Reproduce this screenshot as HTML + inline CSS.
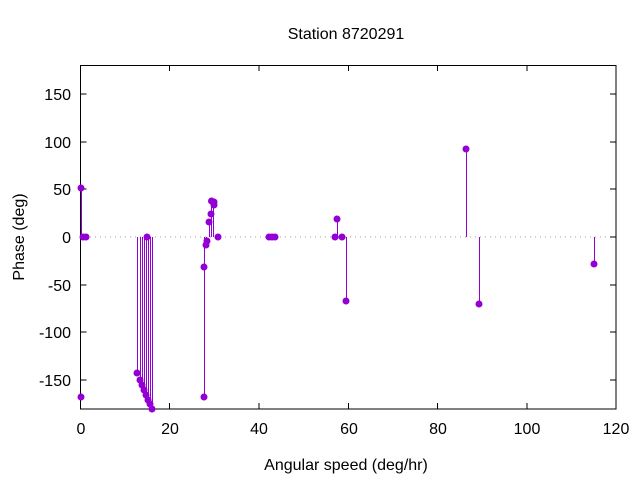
<!DOCTYPE html>
<html><head><meta charset="utf-8"><style>
body{margin:0;background:#fff}
svg{display:block;font-family:"Liberation Sans","DejaVu Sans",sans-serif;font-size:16px}
</style></head><body>
<svg width="640" height="480" viewBox="0 0 640 480" xmlns="http://www.w3.org/2000/svg">
<rect width="640" height="480" fill="#fff"/>
<line x1="80" y1="237" x2="616" y2="237" stroke="#a0a0a0" stroke-dasharray="1,4"/>
<g stroke="#000" stroke-width="1" shape-rendering="crispEdges">
<rect x="80.5" y="65.5" width="535.5" height="343.5" fill="none"/>
<path d="M80.5 94h6M616 94h-6M80.5 142h6M616 142h-6M80.5 189h6M616 189h-6M80.5 237h6M616 237h-6M80.5 285h6M616 285h-6M80.5 332h6M616 332h-6M80.5 380h6M616 380h-6"/>
<path d="M80.5 409v-6M80.5 65v6M169.5 409v-6M169.5 65v6M259 409v-6M259 65v6M348.5 409v-6M348.5 65v6M437.5 409v-6M437.5 65v6M527 409v-6M527 65v6"/>
</g>
<g text-anchor="end" fill="#000">
<text x="71" y="100">150</text><text x="71" y="148">100</text><text x="71" y="195">50</text><text x="71" y="243">0</text><text x="71" y="291">-50</text><text x="71" y="338">-100</text><text x="71" y="386">-150</text>
</g>
<g text-anchor="middle" fill="#000">
<text x="81" y="434">0</text><text x="170" y="434">20</text><text x="259" y="434">40</text><text x="349" y="434">60</text><text x="438" y="434">80</text><text x="527" y="434">100</text><text x="616" y="434">120</text>
<text x="346" y="39">Station 8720291</text>
<text x="346" y="470">Angular speed (deg/hr)</text>
<text transform="translate(24,237) rotate(-90)">Phase (deg)</text>
</g>
<g stroke="#9400d3" stroke-width="1" shape-rendering="crispEdges">
<path d="M81.5 237V188M137.5 237V373M140.5 237V380M142.5 237V385M144.5 237V390M146.5 237V395M148.5 237V400M150.5 237V404M152.5 237V409M204.5 237V397M206.5 237V245M209.5 237V222M211.5 237V201M213.5 237V202M337.5 237V219M346.5 237V301M466.5 237V149M479.5 237V304M594.5 237V264"/>
</g>
<g fill="#9400d3">
<circle cx="81" cy="188" r="3.5"/><circle cx="81" cy="397" r="3.5"/><circle cx="83" cy="237" r="3.5"/><circle cx="86" cy="237" r="3.5"/>
<circle cx="137" cy="373" r="3.5"/><circle cx="140" cy="380" r="3.5"/><circle cx="142" cy="385" r="3.5"/><circle cx="144" cy="390" r="3.5"/><circle cx="146" cy="395" r="3.5"/><circle cx="148" cy="400" r="3.5"/><circle cx="150" cy="404" r="3.5"/><circle cx="152" cy="409" r="3.5"/><circle cx="147" cy="237" r="3.5"/>
<circle cx="204" cy="267" r="3.5"/><circle cx="204" cy="397" r="3.5"/><circle cx="206" cy="245" r="3.5"/><circle cx="207" cy="241" r="3.5"/><circle cx="209" cy="222" r="3.5"/><circle cx="211" cy="214" r="3.5"/><circle cx="211.5" cy="201" r="3.5"/><circle cx="214" cy="202" r="3.5"/><circle cx="214" cy="205" r="3.5"/><circle cx="218" cy="237" r="3.5"/>
<circle cx="269" cy="237" r="3.5"/><circle cx="272" cy="237" r="3.5"/><circle cx="275" cy="237" r="3.5"/>
<circle cx="335" cy="237" r="3.5"/><circle cx="337" cy="219" r="3.5"/><circle cx="342" cy="237" r="3.5"/><circle cx="346" cy="301" r="3.5"/>
<circle cx="466" cy="149" r="3.5"/><circle cx="479" cy="304" r="3.5"/><circle cx="594" cy="264" r="3.5"/>
</g>
</svg>
</body></html>
